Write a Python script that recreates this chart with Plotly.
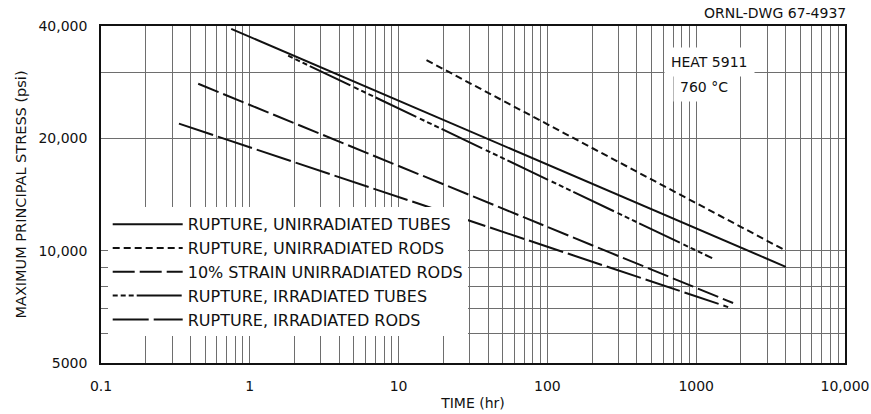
import plotly.graph_objects as go

# ---- data (time in hr, stress in psi) ----
series_names = [
    "RUPTURE, UNIRRADIATED TUBES",
    "RUPTURE, UNIRRADIATED RODS",
    "10% STRAIN UNIRRADIATED RODS",
    "RUPTURE, IRRADIATED TUBES",
    "RUPTURE, IRRADIATED RODS",
]
unirr_tubes_time = [0.75, 4000]
unirr_tubes_stress = [39300, 9050]
unirr_rods_time = [15.4, 4000]
unirr_rods_stress = [32400, 10000]
strain10_rods_time = [0.45, 1770]
strain10_rods_stress = [28000, 7240]
irr_tubes_time = [1.81, 1280]
irr_tubes_stress = [33300, 9550]
irr_rods_time = [0.334, 1640]
irr_rods_stress = [21900, 7060]

x_tick_vals = [0.1, 0.2, 0.3, 0.4, 0.5, 0.6, 0.7, 0.8, 0.9,
               1, 2, 3, 4, 5, 6, 7, 8, 9,
               10, 20, 30, 40, 50, 60, 70, 80, 90,
               100, 200, 300, 400, 500, 600, 700, 800, 900,
               1000, 2000, 3000, 4000, 5000, 6000, 7000, 8000, 9000, 10000]
x_labels = {0.1: "0.1", 1: "1", 10: "10", 100: "100", 1000: "1000", 10000: "10,000"}
y_tick_vals = [5000, 6000, 7000, 8000, 9000, 10000, 20000, 30000, 40000]
y_labels = {5000: "5000", 10000: "10,000", 20000: "20,000", 40000: "40,000"}

FONT = "DejaVu Sans"
INK = "#111111"
GRID = "#6e6e6e"

traces = [
    (series_names[0], unirr_tubes_time, unirr_tubes_stress, "solid"),
    (series_names[1], unirr_rods_time, unirr_rods_stress, "7px,4px"),
    (series_names[2], strain10_rods_time, strain10_rods_stress, "22px,5px"),
    (series_names[3], irr_tubes_time, irr_tubes_stress, "5px,3px,5px,3px,5px,3px,45px,4px"),
    (series_names[4], irr_rods_time, irr_rods_stress, "36px,5px"),
]

fig = go.Figure()
for i, (name, t, s, dash) in enumerate(traces):
    fig.add_trace(go.Scatter(
        x=t, y=s, mode="lines", name=name, legendgroup=f"g{i}",
        line=dict(color=INK, width=2, dash=dash),
    ))

fig.update_layout(
    width=871, height=414,
    margin=dict(l=101, r=26, t=26, b=51),
    paper_bgcolor="white", plot_bgcolor="white",
    font=dict(family=FONT, size=14, color=INK),
    showlegend=True,
    legend=dict(
        x=0.009, y=0.462, xanchor="left", yanchor="top",
        bgcolor="white", borderwidth=0,
        font=dict(family=FONT, size=16, color=INK),
        itemwidth=70, tracegroupgap=0,
    ),
    xaxis=dict(
        type="log", range=[-1, 4], automargin=False,
        tickmode="array", tickvals=x_tick_vals,
        ticktext=[x_labels.get(v, "") for v in x_tick_vals],
        showgrid=True, gridcolor=GRID, gridwidth=1,
        showline=True, linecolor=INK, linewidth=1.5, mirror=True,
        ticks="", ticklabelstandoff=9, zeroline=False,
        title=dict(text="TIME (hr)", font=dict(size=14), standoff=6),
    ),
    yaxis=dict(
        type="log", range=[3.69897, 4.60206], automargin=False,
        tickmode="array", tickvals=y_tick_vals,
        ticktext=[y_labels.get(v, "") for v in y_tick_vals],
        showgrid=True, gridcolor=GRID, gridwidth=1,
        showline=True, linecolor=INK, linewidth=1.5, mirror=True,
        ticks="", ticklabelstandoff=9, zeroline=False,
        title=dict(text="MAXIMUM PRINCIPAL STRESS (psi)", font=dict(size=14.5), standoff=8),
    ),
    annotations=[
        dict(text="ORNL-DWG 67-4937", xref="paper", yref="paper",
             x=1.004, y=1.04, xanchor="right", yanchor="middle",
             showarrow=False, font=dict(family=FONT, size=14, color=INK)),
        dict(text="HEAT 5911", xref="paper", yref="paper",
             x=0.818, y=0.892, xanchor="center", yanchor="middle",
             showarrow=False, bgcolor="white", borderpad=6,
             font=dict(family=FONT, size=14, color=INK)),
        dict(text="760 °C", xref="paper", yref="paper",
             x=0.81, y=0.818, xanchor="center", yanchor="middle",
             showarrow=False, bgcolor="white", borderpad=6,
             font=dict(family=FONT, size=14, color=INK)),
    ],
)

fig.write_html("out.html")
